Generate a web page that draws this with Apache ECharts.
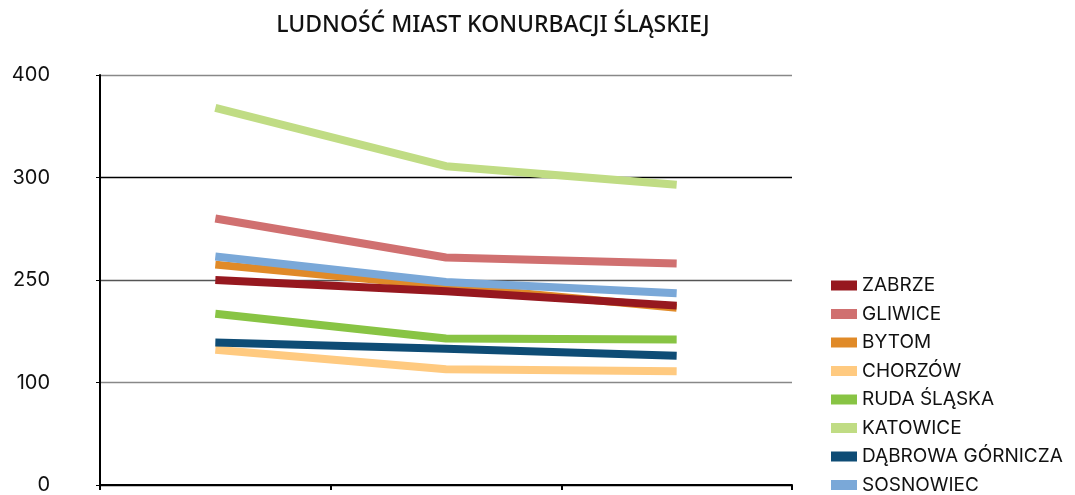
<!DOCTYPE html>
<html>
<head>
<meta charset="utf-8">
<script src="https://cdn.jsdelivr.net/npm/echarts@6/dist/echarts.min.js"></script>
<style>
  html, body { margin: 0; padding: 0; background: #fff; }
  #graph { width: 1075px; height: 495px; }
</style>
</head>
<body>
<div id="graph"></div>
<script>
var categories = ['1990', '2010', '2020'];
var yTickLabels = ['0', '100', '250', '300', '400'];

var zabrze = [200, 189, 175];
var gliwice = [260, 222, 216];
var bytom = [215, 194, 173];
var chorzow = [132, 113, 111];
var rudaSlaska = [167, 143, 142];
var katowice = [368, 311, 293];
var dabrowa = [139, 133, 126];
var sosnowiec = [223, 198, 187];

var myChart = echarts.init(document.getElementById('graph'));

function line(name, data, color, z) {
    return {
        name: name,
        type: 'line',
        data: data,
        symbol: 'none',
        z: z,
        itemStyle: { color: color },
        lineStyle: { color: color, width: 8, cap: 'butt' }
    };
}

var option = {
    animation: false,
    title: {
        text: 'LUDNOŚĆ MIAST KONURBACJI ŚLĄSKIEJ',
        left: 488,
        textAlign: 'center',
        top: 9,
        textStyle: {
            fontFamily: 'Noto Sans',
            fontWeight: 500,
            fontSize: 23,
            color: '#111'
        }
    },
    grid: {
        left: 100,
        right: 283,
        top: 75,
        bottom: 6
    },
    legend: {
        orient: 'vertical',
        left: 826,
        top: 271,
        height: 320,
        icon: 'rect',
        itemWidth: 26,
        itemHeight: 10,
        itemGap: 9.5,
        textStyle: {
            fontFamily: 'Inter',
            fontSize: 19,
            color: '#111'
        },
        data: ['ZABRZE', 'GLIWICE', 'BYTOM', 'CHORZÓW', 'RUDA ŚLĄSKA', 'KATOWICE', 'DĄBROWA GÓRNICZA', 'SOSNOWIEC']
    },
    xAxis: {
        type: 'category',
        boundaryGap: true,
        data: categories,
        axisLine: { lineStyle: { color: '#000', width: 2 } },
        axisTick: { show: true, length: 5, lineStyle: { color: '#000', width: 2 } },
        axisLabel: { show: false }
    },
    yAxis: {
        type: 'value',
        min: 0,
        max: 400,
        interval: 100,
        axisLine: { show: true, lineStyle: { color: '#000', width: 2 } },
        axisTick: { show: true, length: 4, lineStyle: { color: '#000', width: 1 } },
        axisLabel: {
            margin: 50,
            fontFamily: 'Inter',
            fontSize: 20,
            color: '#111',
            formatter: function (v) {
                return yTickLabels[Math.round(v / 100)];
            }
        },
        splitLine: {
            show: true,
            lineStyle: { color: ['#000', '#888', '#555', '#000', '#888'], width: 1.3 }
        }
    },
    series: [
        line('ZABRZE', zabrze, '#96181F', 10),
        line('GLIWICE', gliwice, '#D07070', 2),
        line('BYTOM', bytom, '#E08A28', 3),
        line('CHORZÓW', chorzow, '#FFCA80', 4),
        line('RUDA ŚLĄSKA', rudaSlaska, '#88C444', 5),
        line('KATOWICE', katowice, '#C0DC84', 6),
        line('DĄBROWA GÓRNICZA', dabrowa, '#0E4C75', 7),
        line('SOSNOWIEC', sosnowiec, '#7AA8D8', 8)
    ]
};

myChart.setOption(option);
</script>
</body>
</html>
